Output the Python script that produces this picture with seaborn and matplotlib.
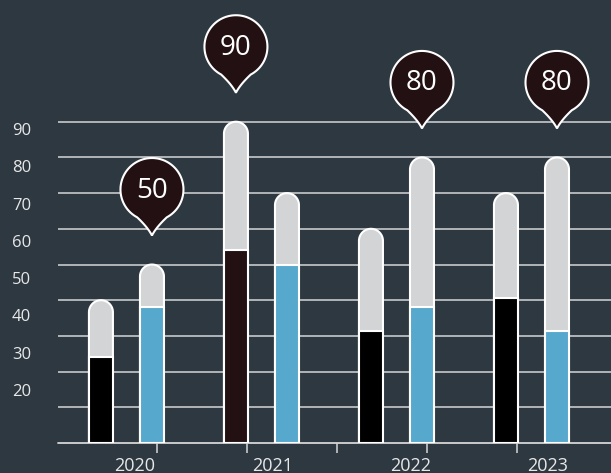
import numpy as np
import pandas as pd
import matplotlib
matplotlib.use("Agg")
import matplotlib.pyplot as plt
import matplotlib.transforms as mtransforms
from matplotlib.path import Path
from matplotlib.patches import PathPatch
import seaborn as sns

# ---- data ----
years = ["2020", "2021", "2022", "2023"]
series = ["A", "B"]
total_a = [40, 90, 60, 70]
total_b = [50, 70, 80, 80]
fill_a = [24, 54, 31.5, 40.5]
fill_b = [38, 50, 38, 31.5]
y_tick_values = [90, 80, 70, 60, 50, 40, 30, 20]
grid_values = [10, 20, 30, 40, 50, 60, 70, 80, 90]

# ---- style ----
BG = "#2e3841"
GRAY = "#d3d4d6"
BLUE = "#56a8cd"
BLACK = "#000000"
PIN = "#231012"
GRID = "#d6d6d6"
TXT = "#e8e8e8"

sns.set_theme(style="dark", rc={"axes.facecolor": BG, "figure.facecolor": BG})
plt.rcParams["font.family"] = ["Open Sans", "DejaVu Sans"]

fig = plt.figure(figsize=(6.11, 4.73), dpi=100, facecolor=BG)
ax = fig.add_axes([58 / 611, 30 / 473, 553 / 611, 443 / 473])
ax.set_facecolor(BG)

df_total = pd.DataFrame({"year": years * 2,
                         "series": ["A"] * 4 + ["B"] * 4,
                         "value": total_a + total_b})
df_fill = pd.DataFrame({"year": years * 2,
                        "series": ["A"] * 4 + ["B"] * 4,
                        "value": fill_a + fill_b})

sns.barplot(data=df_total, x="year", y="value", hue="series", order=years,
            hue_order=series, palette={"A": GRAY, "B": GRAY}, width=0.756,
            gap=0.53, edgecolor="white", linewidth=1.5, errorbar=None,
            saturation=1, legend=False, ax=ax, zorder=2)
total_containers = list(ax.containers)
sns.barplot(data=df_fill, x="year", y="value", hue="series", order=years,
            hue_order=series, palette={"A": BLACK, "B": BLUE}, width=0.756,
            gap=0.53, edgecolor="white", linewidth=1.5, errorbar=None,
            saturation=1, legend=False, ax=ax, zorder=3)
fill_containers = list(ax.containers)[len(total_containers):]

ax.set_xlim(-0.507, 3.589)
ax.set_ylim(0, 124.1)

# scale factors
p0 = ax.transData.transform((0, 0))
p1 = ax.transData.transform((1, 1))
sx = p1[0] - p0[0]
sy = p1[1] - p0[1]

# rounded tops for total bars
for cont in total_containers:
    for p in cont.patches:
        x, w, h = p.get_x(), p.get_width(), p.get_height()
        p.set_visible(False)
        rx = w / 2
        ry = rx * sx / sy
        th = np.linspace(0, np.pi, 40)
        arc = np.column_stack([x + rx + rx * np.cos(th), h - ry + ry * np.sin(th)])
        verts = [(x + w, 0)] + [tuple(v) for v in arc] + [(x, 0), (x + w, 0)]
        codes = [Path.MOVETO] + [Path.LINETO] * (len(verts) - 2) + [Path.CLOSEPOLY]
        ax.add_patch(PathPatch(Path(verts, codes), facecolor=GRAY,
                               edgecolor="white", lw=1.5, zorder=2))

# highlight overall max bar
totals = [total_a, total_b]
flat = [(totals[j][i], j, i) for j in range(2) for i in range(4)]
vmax, jmax, imax = max(flat)
fill_containers[jmax].patches[imax].set_facecolor(PIN)

# pins
R = 31.5
CY = 46.0
TIP = 29.0
ang = np.radians(np.linspace(-90 + 28, 270 - 28, 80))
circle_pts = np.column_stack([R * np.cos(ang), CY + R * np.sin(ang)])
start = circle_pts[0]
end = circle_pts[-1]
tt = np.linspace(0, 1, 15)
def qb(p0_, c, p2):
    return np.array([(1 - t) ** 2 * np.array(p0_) + 2 * (1 - t) * t * np.array(c) + t ** 2 * np.array(p2) for t in tt])
right_tail = qb((0, 0), (4, 8), start)
left_tail = qb(end, (-4, 8), (0, 0))
pin_pts = np.vstack([right_tail, circle_pts[1:], left_tail[1:]])
pin_codes = [Path.MOVETO] + [Path.LINETO] * (len(pin_pts) - 1)
pin_pts = np.vstack([pin_pts, pin_pts[:1]])
pin_codes = pin_codes + [Path.CLOSEPOLY]
pin_path = Path(pin_pts, pin_codes)

for i in range(4):
    vals = [total_a[i], total_b[i]]
    j = int(np.argmax(vals))
    v = vals[j]
    bp = total_containers[j].patches[i]
    xc = bp.get_x() + bp.get_width() / 2
    tr = mtransforms.Affine2D().translate(0, TIP) + \
        mtransforms.ScaledTranslation(xc, v, ax.transData)
    ax.add_patch(PathPatch(pin_path, facecolor=PIN, edgecolor="white", lw=1.5,
                           transform=tr, zorder=6, clip_on=False))
    ax.annotate(str(v), xy=(xc, v), xytext=(0, TIP + CY - 1),
                textcoords="offset pixels", ha="center", va="center",
                fontsize=20, color="white", zorder=7, annotation_clip=False)

# grid and baseline
for v in grid_values:
    ax.axhline(v, color=GRID, lw=1.1, zorder=1)
ax.axhline(0, color=GRID, lw=1.3, zorder=1, clip_on=False)

for s in ax.spines.values():
    s.set_visible(False)
ax.grid(False)
ax.set_xlabel("")
ax.set_ylabel("")

# y ticks
ypos = [87.9 - (90 - v) * 1.043 for v in y_tick_values]
ax.set_yticks(ypos, labels=[str(v) for v in y_tick_values])
ax.tick_params(axis="y", length=0, pad=19.4, labelsize=12, labelcolor=TXT)

# x ticks
xpos = [0.063 + k * 1.02 for k in range(4)]
ax.set_xticks(xpos, labels=years)
ax.tick_params(axis="x", which="major", length=0, pad=10, labelsize=13,
               labelcolor=TXT)
ax.set_xticks([0.226 + k * 2 / 3 for k in range(5)], minor=True)
ax.tick_params(axis="x", which="minor", length=7.5, width=1.1, color=GRID,
               bottom=True)

fig.savefig("out.png", dpi=100, facecolor=BG)
